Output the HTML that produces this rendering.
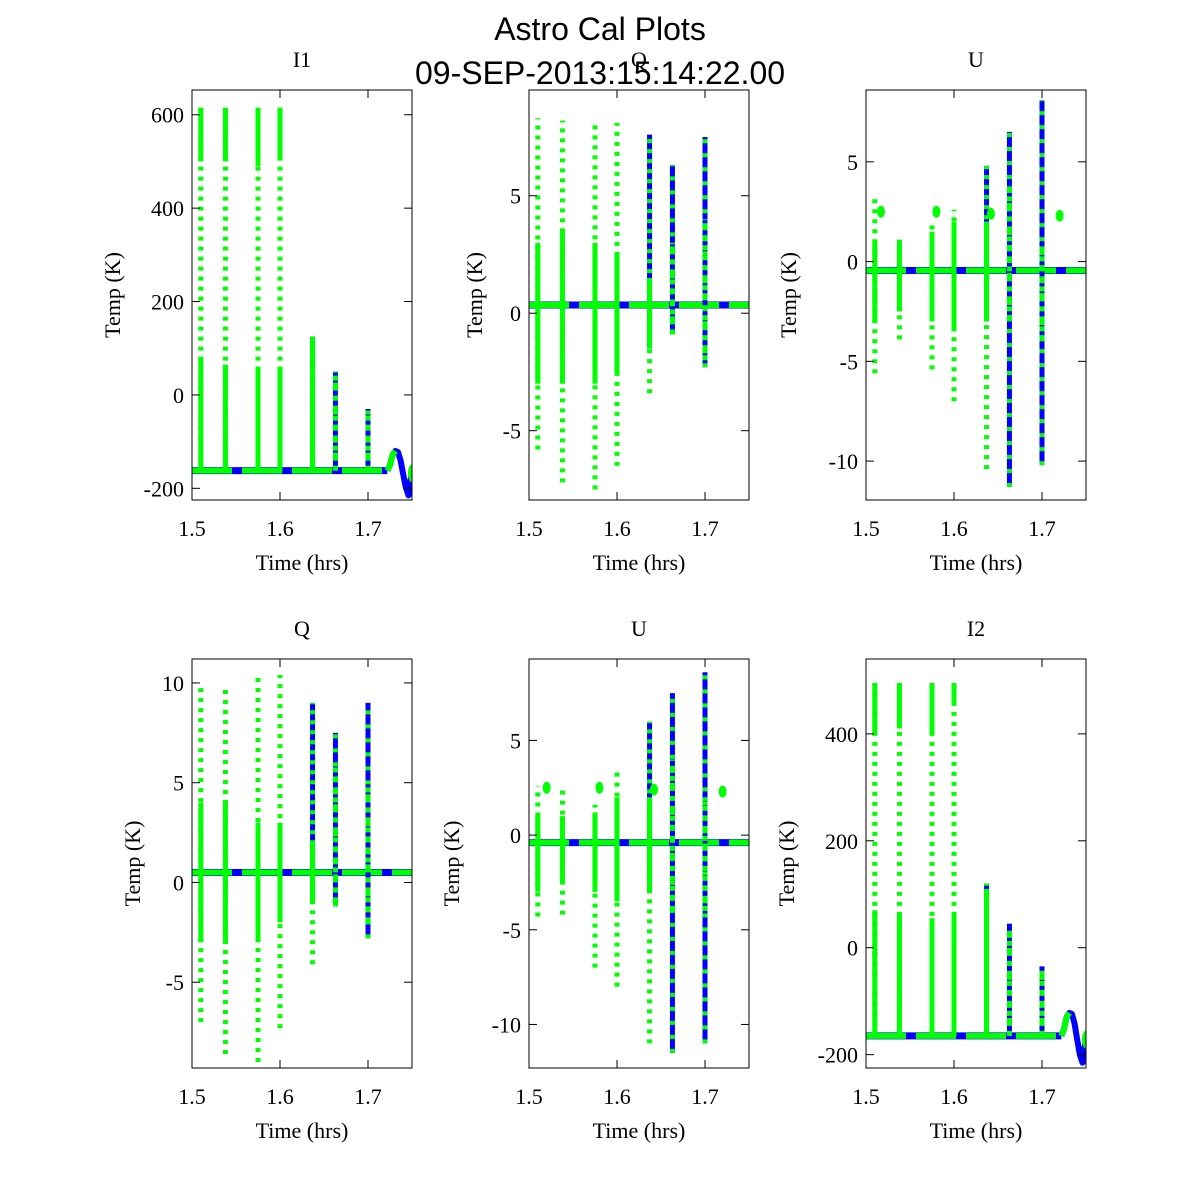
<!DOCTYPE html>
<html><head><meta charset="utf-8"><style>
body{margin:0;background:#fff}
svg{display:block}
.t{font-family:"Liberation Serif",serif;font-size:22px;fill:#000}
.h{font-family:"Liberation Sans",sans-serif;font-size:32px;fill:#000}
</style></head><body>
<svg id="c" width="1200" height="1200" viewBox="0 0 1200 1200">
<text class="h" x="600" y="40" text-anchor="middle">Astro Cal Plots</text>
<text class="h" x="600" y="84" text-anchor="middle">09-SEP-2013:15:14:22.00</text>
</svg>
<script>
const spikeTimes=[1.51,1.538,1.575,1.60,1.637,1.663,1.70];
const blueSpikes=[0,0,0,0,0.5,1,1];
const xTicks=[1.5,1.6,1.7];
// I1
const i1Hi=[615,615,615,615,125,50,-30];
const i1Lo=[-162,-162,-162,-162,-162,-162,-162];
const i1CoreHi=[80,65,55,60,120,45,-35];
const i1CoreLo=[-162,-162,-162,-162,-162,-162,-162];
const i1TopLo=[500,500,490,510,null,null,null];
const i1BumpT=[1.722,1.725,1.728,1.731,1.734,1.737,1.740,1.743,1.746,1.748,1.75];
const i1BumpV=[-162,-150,-128,-120,-122,-140,-170,-198,-215,-185,-168];
// Q top
const q1Hi=[8.3,8.2,8.0,8.1,7.6,6.3,7.5];
const q1Lo=[-5.8,-7.2,-7.5,-6.5,-3.4,-0.9,-2.3];
const q1CoreHi=[3,3.5,3,2.5,1.5,3,4];
const q1CoreLo=[-3,-3,-3,-2.5,-1.5,-0.9,-2];
// U top
const u1Hi=[3.2,1.1,1.9,2.6,4.8,6.5,8.1];
const u1Lo=[-5.6,-3.9,-5.4,-7,-10.4,-11.3,-10.2];
const u1CoreHi=[1,1.1,1.5,2,2,4,1];
const u1CoreLo=[-3,-2.5,-3,-3.5,-3,-3,-4];
const u1BlobT=[1.517,1.58,1.642,1.72];
const u1BlobV=[2.5,2.5,2.4,2.3];
// Q bottom
const q2Hi=[10,9.9,10.5,10.4,9,7.5,9];
const q2Lo=[-7,-8.6,-9,-7.3,-4.1,-1.2,-2.8];
const q2CoreHi=[4,4,3,3,2,6,5];
const q2CoreLo=[-3,-3,-3,-2,-1,-1,-2];
// U bottom
const u2Hi=[2.6,2.5,1.6,3.3,6,7.5,8.6];
const u2Lo=[-4.3,-4.2,-7,-8,-11,-11.5,-11];
const u2CoreHi=[1,1,1.2,2,2,4,2];
const u2CoreLo=[-3,-2.5,-3,-3.5,-3,-4,-4];
const u2BlobT=[1.52,1.58,1.642,1.72];
const u2BlobV=[2.5,2.5,2.4,2.3];
// I2
const i2Hi=[495,495,495,495,120,45,-35];
const i2Lo=[-165,-165,-165,-165,-165,-165,-165];
const i2CoreHi=[70,60,55,60,110,40,-40];
const i2CoreLo=[-165,-165,-165,-165,-165,-165,-165];
const i2TopLo=[400,410,400,460,null,null,null];
const i2BumpT=[1.722,1.725,1.728,1.731,1.734,1.737,1.740,1.743,1.746,1.748,1.75];
const i2BumpV=[-165,-152,-130,-122,-124,-142,-172,-200,-215,-190,-172];

const panels=[
 {name:'i1',title:'I1',x0:192,x1:412,y0:90,y1:500,ymin:-225,ymax:653,yTicks:[-200,0,200,400,600],tickLbl:['-200','0','200','400','600'],base:-162,hi:i1Hi,lo:i1Lo,cHi:i1CoreHi,cLo:i1CoreLo,top:i1TopLo,bT:i1BumpT,bV:i1BumpV,lab:72},
 {name:'q-top',title:'Q',x0:529,x1:749,y0:90,y1:500,ymin:-7.95,ymax:9.5,yTicks:[-5,0,5],tickLbl:['-5','0','5'],base:0.35,hi:q1Hi,lo:q1Lo,cHi:q1CoreHi,cLo:q1CoreLo,lab:47},
 {name:'u-top',title:'U',x0:866,x1:1086,y0:90,y1:500,ymin:-11.95,ymax:8.6,yTicks:[-10,-5,0,5],tickLbl:['-10','-5','0','5'],base:-0.45,hi:u1Hi,lo:u1Lo,cHi:u1CoreHi,cLo:u1CoreLo,blT:u1BlobT,blV:u1BlobV,lab:70},
 {name:'q-bottom',title:'Q',x0:192,x1:412,y0:659,y1:1068,ymin:-9.3,ymax:11.2,yTicks:[-5,0,5,10],tickLbl:['-5','0','5','10'],base:0.5,hi:q2Hi,lo:q2Lo,cHi:q2CoreHi,cLo:q2CoreLo,lab:52},
 {name:'u-bottom',title:'U',x0:529,x1:749,y0:659,y1:1068,ymin:-12.3,ymax:9.3,yTicks:[-10,-5,0,5],tickLbl:['-10','-5','0','5'],base:-0.4,hi:u2Hi,lo:u2Lo,cHi:u2CoreHi,cLo:u2CoreLo,blT:u2BlobT,blV:u2BlobV,lab:70},
 {name:'i2',title:'I2',x0:866,x1:1086,y0:659,y1:1068,ymin:-225,ymax:540,yTicks:[-200,0,200,400],tickLbl:['-200','0','200','400'],base:-165,hi:i2Hi,lo:i2Lo,cHi:i2CoreHi,cLo:i2CoreLo,top:i2TopLo,bT:i2BumpT,bV:i2BumpV,lab:72}
];
const svg=document.getElementById('c');
const NS='http://www.w3.org/2000/svg';
function mk(tag,attrs,parent){const e=document.createElementNS(NS,tag);for(const k in attrs)e.setAttribute(k,attrs[k]);parent.appendChild(e);return e;}
panels.forEach(p=>{
 const X=t=>p.x0+(t-1.5)/0.25*(p.x1-p.x0);
 const Y=v=>p.y1-(v-p.ymin)/(p.ymax-p.ymin)*(p.y1-p.y0);
 const g=mk('g',{},svg);
 
 
 const clip=mk('clipPath',{id:'cl'+p.name},g);
 mk('rect',{x:p.x0,y:p.y0,width:p.x1-p.x0,height:p.y1-p.y0},clip);
 const d=mk('g',{'clip-path':'url(#cl'+p.name+')'},g);
 
 
 const bl=mk('line',{x1:X(1.5),x2:X(p.bT?p.bT[0]:1.75),y1:Y(p.base),y2:Y(p.base),stroke:'#0000ff','stroke-width':7},d);
 
 
 const bg=mk('line',{x1:X(1.5),x2:X(p.bT?p.bT[0]:1.75),y1:Y(p.base),y2:Y(p.base),stroke:'#00ff00','stroke-width':6,'stroke-dasharray':'40 10'},d);
 
 
 spikeTimes.forEach((t,i)=>{
  const x=X(t);
  if(blueSpikes[i]>0){
   const lo=blueSpikes[i]<1?p.cLo[i]:p.lo[i];
   const b=mk('line',{x1:x,x2:x,y1:Y(lo),y2:Y(p.hi[i]),stroke:'#0000ff','stroke-width':5},d);
   
   
  }
  const s=mk('line',{x1:x,x2:x,y1:Y(p.lo[i]),y2:Y(p.hi[i]),stroke:'#00ff00','stroke-width':5,'stroke-dasharray':blueSpikes[i]>=1?'4 10':'4 6'},d);
  
  
  const c=mk('line',{x1:x,x2:x,y1:Y(p.cLo[i]),y2:Y(p.cHi[i]),stroke:'#00ff00','stroke-width':5,'stroke-dasharray':blueSpikes[i]>=1?'5 5':'none'},d);
  
  
  if(p.top&&p.top[i]!=null){
   const tp=mk('line',{x1:x,x2:x,y1:Y(p.top[i]),y2:Y(p.hi[i]),stroke:'#00ff00','stroke-width':5},d);
   
   
  }
 });
 if(p.bT){
  const pts=p.bT.map((t,i)=>X(t)+','+Y(p.bV[i])).join(' ');
  const bb=mk('polyline',{points:pts,fill:'none',stroke:'#0000ff','stroke-width':6,'stroke-linejoin':'round'},d);
  
  
  const pts2=p.bT.slice(0,4).map((t,i)=>X(t)+','+Y(p.bV[i])).join(' ');
  const gb=mk('polyline',{points:pts2,fill:'none',stroke:'#00ff00','stroke-width':6,'stroke-linejoin':'round'},d);
  
  
  const n=p.bT.length-1;
  const ge=mk('ellipse',{cx:X(p.bT[n]),cy:Y(p.bV[n]),rx:4,ry:9,fill:'#00ff00'},d);
  
  
 }
 if(p.blT){
  p.blT.forEach((t,i)=>{
   const e=mk('ellipse',{cx:X(t),cy:Y(p.blV[i]),rx:4,ry:6,fill:'#00ff00'},d);
   
   
  });
 }
 const fr=mk('rect',{x:p.x0,y:p.y0,width:p.x1-p.x0,height:p.y1-p.y0,fill:'none',stroke:'#000','stroke-width':1},g);
 
 
 xTicks.forEach(t=>{
  const x=X(t);
  mk('line',{x1:x,x2:x,y1:p.y1,y2:p.y1-8,stroke:'#000'},g);
  mk('line',{x1:x,x2:x,y1:p.y0,y2:p.y0+8,stroke:'#000'},g);
  const tl=mk('text',{class:'t',x:x,y:p.y1+36,'text-anchor':'middle'},g);
  tl.textContent=t.toFixed(1);
  
  
 });
 p.yTicks.forEach((v,i)=>{
  const y=Y(v);
  mk('line',{x1:p.x0,x2:p.x0+8,y1:y,y2:y,stroke:'#000'},g);
  mk('line',{x1:p.x1,x2:p.x1-8,y1:y,y2:y,stroke:'#000'},g);
  const tl=mk('text',{class:'t',x:p.x0-8,y:y+8,'text-anchor':'end'},g);
  tl.textContent=p.tickLbl[i];
  
  
 });
 const ttl=mk('text',{class:'t',x:(p.x0+p.x1)/2,y:p.y0-23,'text-anchor':'middle'},g);
 ttl.textContent=p.title;
 
 
 const xl=mk('text',{class:'t',x:(p.x0+p.x1)/2,y:p.y1+70,'text-anchor':'middle'},g);
 xl.textContent='Time (hrs)';
 
 
 const labX=p.x0-p.lab;
 const yl=mk('text',{class:'t',x:labX,y:(p.y0+p.y1)/2,'text-anchor':'middle',transform:'rotate(-90 '+labX+' '+(p.y0+p.y1)/2+')'},g);
 yl.textContent='Temp (K)';
 
 
});
</script>
</body></html>
